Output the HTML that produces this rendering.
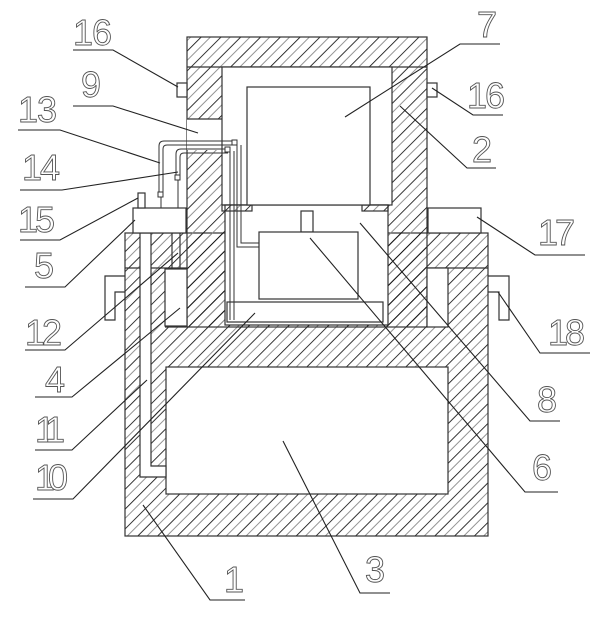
<!DOCTYPE html>
<html><head><meta charset="utf-8"><style>html,body{margin:0;padding:0;background:#fff}svg{display:block}</style></head>
<body>
<svg width="607" height="617" viewBox="0 0 607 617" xmlns="http://www.w3.org/2000/svg">
<defs>
<pattern id="h" patternUnits="userSpaceOnUse" width="14" height="14" patternTransform="rotate(45)">
<line x1="0" y1="0" x2="0" y2="14" stroke="#111" stroke-width="1.7"/>
<line x1="7" y1="0" x2="7" y2="14" stroke="#888" stroke-width="0.9"/>
</pattern>
</defs>
<g stroke="#333" stroke-width="1.2">
<rect x="125" y="233" width="363" height="303" fill="url(#h)"/>
<rect x="187" y="37" width="240" height="290" fill="url(#h)"/>
<line x1="187" y1="67" x2="427" y2="67"/>
<line x1="125" y1="268" x2="187" y2="268"/>
<line x1="427" y1="268" x2="488" y2="268"/>
<rect x="187" y="119" width="35" height="31" fill="#fff" stroke="none"/>
<line x1="187" y1="119" x2="222" y2="119"/>
<rect x="165" y="269" width="22" height="57" fill="#fff"/>
<rect x="427" y="268" width="21" height="59" fill="#fff"/>
<line x1="165" y1="327" x2="187" y2="327"/>
<rect x="166" y="367" width="282" height="127" fill="#fff"/>
<path d="M140 233 V477 H166 V466 H151 V233 Z" fill="#fff"/>
<line x1="172" y1="233" x2="172" y2="268"/>
<line x1="180" y1="233" x2="180" y2="268"/>
<rect x="222" y="67" width="170" height="138" fill="#fff"/>
<rect x="225" y="205" width="163" height="120" fill="#fff"/>
<rect x="222" y="205" width="30" height="6" fill="url(#h)"/>
<rect x="362" y="205" width="26" height="6" fill="url(#h)"/>
<rect x="247" y="87" width="123" height="118" fill="#fff"/>
<rect x="301" y="211" width="12" height="21" fill="#fff"/>
<rect x="259" y="232" width="99" height="67" fill="#fff"/>
<rect x="227" y="302" width="156" height="20" fill="#fff"/>
<rect x="133" y="208" width="53" height="25" fill="#fff"/>
<rect x="138" y="193" width="7" height="15" fill="#fff"/>
<rect x="428" y="208" width="53" height="25" fill="#fff"/>
<rect x="177" y="83" width="10" height="14" fill="#fff"/>
<rect x="427" y="83" width="10" height="14" fill="#fff"/>
<path d="M125 276 H105 V320 H115 V292 H125" fill="none"/>
<path d="M488 276 H509 V320 H499 V292 H488" fill="none"/>
</g>
<g fill="none" stroke="#333" stroke-width="1">
<path d="M159 192 V146 Q159 141 164 141 H235 M163 192 V149 Q163 145 167 145 H235"/>
<path d="M237 145 V247 H259 M241 145 V243 H259"/>
<path d="M176 175 V154 Q176 149 181 149 H228 M180 175 V157 Q180 153 184 153 H228"/>
<path d="M230 151 V320 M234 151 V320"/>
<line x1="161" y1="197" x2="161" y2="208"/>
<line x1="178" y1="180" x2="178" y2="208"/>
</g>
<g fill="#fff" stroke="#333" stroke-width="1">
<rect x="158" y="192" width="5" height="5"/>
<rect x="175" y="175" width="5" height="5"/>
<rect x="232" y="140" width="5" height="5"/>
<rect x="225" y="147" width="5" height="5"/>
</g>
<g stroke="#222" stroke-width="1.1" fill="none">
<path d="M73 50 H113 L178 87"/>
<path d="M73 106 H113 L198 133"/>
<path d="M18 130 H60 L160 163"/>
<path d="M20 190 H62 L178 172"/>
<path d="M20 240 H60 L138 198"/>
<path d="M25 287 H65 L135 220"/>
<path d="M25 350 H65 L178 253"/>
<path d="M35 397 H72 L180 308"/>
<path d="M35 450 H72 L147 380"/>
<path d="M33 499 H73 L255 313"/>
<path d="M500 44 H460 L345 117"/>
<path d="M503 115 H473 L432 88"/>
<path d="M496 168 H467 L400 106"/>
<path d="M585 255 H535 L477 217"/>
<path d="M590 353 H540 L498 292"/>
<path d="M560 421 H530 L360 223"/>
<path d="M558 492 H525 L310 238"/>
<path d="M390 593 H360 L283 441"/>
<path d="M245 600 H210 L143 505"/>
</g>
<g font-family="Liberation Sans, sans-serif" font-size="36" fill="#fff" stroke="#555" stroke-width="0.9" lengthAdjust="spacingAndGlyphs">
<text x="73" y="45" textLength="39">16</text>
<text x="81" y="97" textLength="20">9</text>
<text x="18" y="122" textLength="39">13</text>
<text x="22" y="180" textLength="38">14</text>
<text x="18" y="232" textLength="37">15</text>
<text x="34" y="278" textLength="19">5</text>
<text x="25" y="345" textLength="37">12</text>
<text x="45" y="392" textLength="20">4</text>
<text x="35" y="442" textLength="30">11</text>
<text x="35" y="490" textLength="33">10</text>
<text x="477" y="37" textLength="23">7</text>
<text x="467" y="108" textLength="38">16</text>
<text x="472" y="162" textLength="20">2</text>
<text x="538" y="245" textLength="37">17</text>
<text x="548" y="345" textLength="37">18</text>
<text x="537" y="412" textLength="19">8</text>
<text x="532" y="480" textLength="20">6</text>
<text x="365" y="582" textLength="22">3</text>
<text x="224" y="592" textLength="12">1</text>
</g>
</svg>
</body></html>
